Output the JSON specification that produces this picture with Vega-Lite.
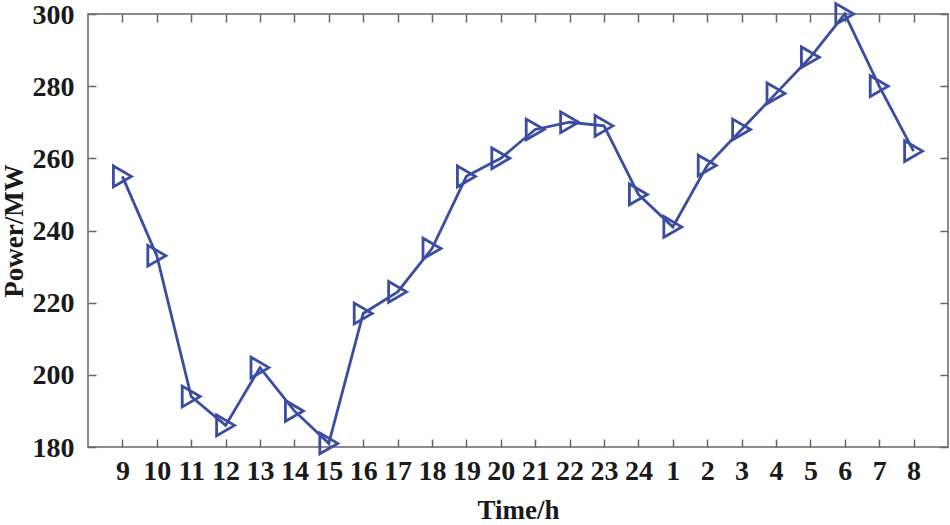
{
  "$schema": "https://vega.github.io/schema/vega-lite/v6.json",
  "width": 860,
  "height": 433,
  "autosize": {"type": "none"},
  "padding": {"left": 88, "top": 14, "right": 2, "bottom": 78},
  "background": "white",
  "config": {
    "view": {"stroke": "#666666", "strokeWidth": 1.5},
    "font": "Liberation Serif",
    "axis": {
      "grid": false,
      "domain": false,
      "tickColor": "#666666",
      "tickWidth": 1.5,
      "tickSize": -8,
      "labelFont": "Liberation Serif",
      "labelFontWeight": "bold",
      "labelFontSize": 28,
      "labelColor": "#1a1a1a",
      "titleFont": "Liberation Serif",
      "titleFontWeight": "bold",
      "titleFontSize": 27,
      "titleColor": "#1a1a1a"
    }
  },
  "data": {
    "values": [
      {"t": "9", "p": 255},
      {"t": "10", "p": 233},
      {"t": "11", "p": 194},
      {"t": "12", "p": 186},
      {"t": "13", "p": 202},
      {"t": "14", "p": 190},
      {"t": "15", "p": 181},
      {"t": "16", "p": 217},
      {"t": "17", "p": 223},
      {"t": "18", "p": 235},
      {"t": "19", "p": 255},
      {"t": "20", "p": 260},
      {"t": "21", "p": 268},
      {"t": "22", "p": 270},
      {"t": "23", "p": 269},
      {"t": "24", "p": 250},
      {"t": "1", "p": 241},
      {"t": "2", "p": 258},
      {"t": "3", "p": 268},
      {"t": "4", "p": 278},
      {"t": "5", "p": 288},
      {"t": "6", "p": 300},
      {"t": "7", "p": 280},
      {"t": "8", "p": 262}
    ]
  },
  "layer": [
    {
      "mark": {"type": "line", "color": "#3A4DA3", "strokeWidth": 2.8, "clip": false},
      "encoding": {
        "x": {
          "field": "t", "type": "ordinal", "sort": null,
          "scale": {"type": "point", "padding": 1},
          "axis": {"orient": "bottom", "title": "Time/h", "labelAngle": 0, "labelPadding": 18, "titleY": 63, "titleBaseline": "middle"}
        },
        "y": {
          "field": "p", "type": "quantitative",
          "scale": {"domain": [180, 300], "nice": false, "zero": false},
          "axis": {"orient": "left", "title": "Power/MW", "values": [180, 200, 220, 240, 260, 280, 300], "labelPadding": 22, "labelOffset": 1, "titleX": -74, "titleBaseline": "middle"}
        }
      }
    },
    {
      "mark": {"type": "point", "shape": "triangle-right", "filled": false, "size": 430, "color": "#3A4DA3", "strokeWidth": 2.8, "opacity": 1, "clip": false},
      "encoding": {
        "x": {
          "field": "t", "type": "ordinal", "sort": null,
          "axis": {"orient": "top", "title": null, "labels": false}
        },
        "y": {
          "field": "p", "type": "quantitative",
          "axis": {"orient": "right", "title": null, "labels": false, "values": [180, 200, 220, 240, 260, 280, 300]}
        }
      }
    }
  ],
  "resolve": {"axis": {"x": "independent", "y": "independent"}}
}
